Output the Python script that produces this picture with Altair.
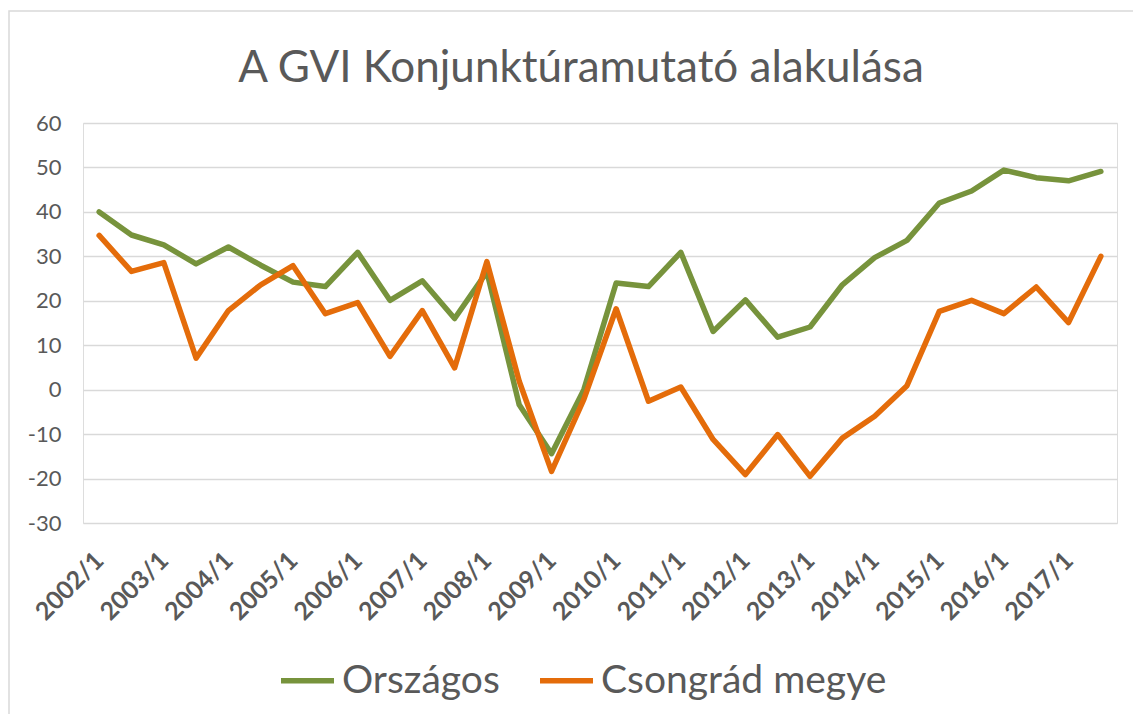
import altair as alt
import pandas as pd

categories = [
    "2002/1", "2002/2", "2003/1", "2003/2", "2004/1", "2004/2", "2005/1", "2005/2",
    "2006/1", "2006/2", "2007/1", "2007/2", "2008/1", "2008/2", "2009/1", "2009/2",
    "2010/1", "2010/2", "2011/1", "2011/2", "2012/1", "2012/2", "2013/1", "2013/2",
    "2014/1", "2014/2", "2015/1", "2015/2", "2016/1", "2016/2", "2017/1", "2017/2",
]
orszagos = [40.0, 34.8, 32.6, 28.3, 32.1, 28.0, 24.2, 23.2, 30.9, 20.1, 24.5, 16.0,
            26.5, -3.4, -14.4, 0.0, 24.0, 23.2, 30.9, 13.1, 20.2, 11.8, 14.1, 23.6,
            29.7, 33.6, 42.0, 44.7, 49.4, 47.7, 47.0, 49.1]
csongrad = [34.7, 26.6, 28.6, 7.1, 17.8, 23.6, 27.9, 17.1, 19.6, 7.5, 17.8, 4.9,
            28.8, 1.9, -18.4, -2.2, 18.2, -2.6, 0.6, -11.2, -19.1, -10.1, -19.5, -10.9,
            -6.0, 0.9, 17.6, 20.1, 17.1, 23.1, 15.1, 30.0]
series_names = ["Országos", "Csongrád megye"]
series_colors = ["#77933C", "#E46C0A"]
y_ticks = [-30, -20, -10, 0, 10, 20, 30, 40, 50, 60]
x_label_values = [c for c in categories if c.endswith("/1")]
title_text = "A GVI Konjunktúramutató alakulása"

rows = []
for name, vals in zip(series_names, [orszagos, csongrad]):
    for c, v in zip(categories, vals):
        rows.append({"Időszak": c, "Érték": v, "Sorozat": name})
df = pd.DataFrame(rows)

TEXT = "#595959"
FONT = "Lato"

lines = alt.Chart(df).mark_line(strokeWidth=5.5, strokeJoin="round", strokeCap="round").encode(
    x=alt.X("Időszak:O", sort=categories,
            scale=alt.Scale(type="point", padding=0.5),
            axis=alt.Axis(title=None, values=x_label_values, labelAngle=-45,
                          labelAlign="right", labelBaseline="middle",
                          labelFontWeight="bold", labelFontSize=25, labelFont=FONT,
                          labelColor=TEXT, labelPadding=33, ticks=False,
                          domain=False, grid=False, labelOverlap=False, labelBound=False)),
    y=alt.Y("Érték:Q", scale=alt.Scale(domain=[-30, 60], nice=False, zero=False),
            axis=alt.Axis(title=None, values=y_ticks, labelFontSize=22, labelFont=FONT,
                          labelColor=TEXT, labelPadding=22, ticks=False, domain=False,
                          labelExpr="datum.value + ''",
                          grid=True, gridColor="#D9D9D9", gridWidth=1.5)),
    color=alt.Color("Sorozat:N", sort=series_names,
                    scale=alt.Scale(domain=series_names, range=series_colors),
                    legend=alt.Legend(title=None, orient="none", direction="horizontal",
                                      legendX=195, legendY=528, padding=0,
                                      symbolType="stroke", symbolSize=2809,
                                      symbolStrokeWidth=5.5, labelFontSize=39,
                                      labelFont=FONT, labelColor=TEXT, labelOffset=5,
                                      labelLimit=500, columnPadding=29)),
)

border = alt.Chart(pd.DataFrame({"a": [0]})).mark_rect(
    filled=False, stroke="#D9D9D9", strokeWidth=1.5
).encode(x=alt.value(-74), x2=alt.value(1200), y=alt.value(-112), y2=alt.value(800))

title = alt.Chart(pd.DataFrame({"t": [title_text]})).mark_text(
    fontSize=44, font=FONT, fontWeight="normal", color=TEXT, align="center",
    baseline="alphabetic"
).encode(text="t:N", x=alt.value(498), y=alt.value(-41))

chart = alt.layer(border, title, lines).properties(
    width=1034, height=400,
    autosize=alt.AutoSizeParams(type="none"),
    padding={"left": 75, "top": 115, "right": 16, "bottom": 191},
).configure_view(strokeWidth=0).configure(background="white")

chart.save("out.html", embed_options={"renderer": "svg", "actions": False})
